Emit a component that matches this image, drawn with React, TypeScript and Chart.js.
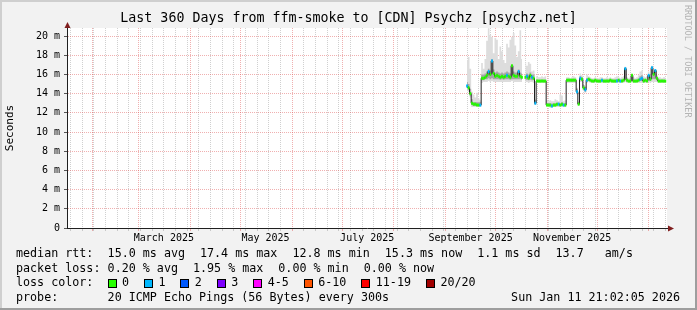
import React, { useEffect, useRef } from 'react';
import { Chart, registerables } from 'chart.js';

Chart.register(...registerables);

const FONT = '"DejaVu Sans Mono", "Liberation Mono", monospace';

// time axis: days since graph start (Jan 16 2025 21:02:05), 360 days shown
const graphStartUTC = Date.UTC(2025, 0, 16, 21, 2, 5);
const spanDays = 360;
const firstDataDay = 240;

// median RTT (ms), one value per day from firstDataDay
const median = [
  14.8, 14.6, 14.0, 13.0, 12.9, 12.9, 12.8, 12.8, 12.8, 15.6,
  15.6, 15.7, 15.9, 16.3, 16.0, 17.4, 16.1, 15.8, 15.9, 15.8,
  15.7, 15.8, 15.7, 15.8, 15.9, 15.8, 15.7, 16.9, 15.9, 15.8,
  15.8, 16.3, 15.8, 15.7, null, 15.7, 15.8, 15.6, 15.9, 15.7,
  15.6, 13.0, 15.3, 15.3, 15.3, 15.3, 15.3, 15.3, 12.8, 12.8,
  12.8, 12.7, 12.8, 12.8, 12.9, 12.9, 12.8, 12.9, 12.8, 12.8,
  15.4, 15.4, 15.4, 15.4, 15.4, 15.4, 14.2, 12.9, 15.6, 15.5,
  14.6, 14.4, 15.4, 15.5, 15.4, 15.3, 15.3, 15.4, 15.3, 15.3,
  15.3, 15.4, 15.3, 15.3, 15.3, 15.3, 15.4, 15.3, 15.3, 15.3,
  15.3, 15.4, 15.3, 15.3, 15.4, 16.6, 15.4, 15.3, 15.3, 15.9,
  15.3, 15.3, 15.3, 15.4, 15.5, 15.6, 15.3, 15.4, 15.3, 15.9,
  15.5, 16.7, 16.0, 16.4, 15.6, 15.3, 15.3, 15.3, 15.3, 15.3,
];

// loss bin per day (index into lossColors)
const lossBin = [
  1, 0, 0, 0, 0, 0, 0, 0, 1, 0,
  0, 0, 0, 1, 0, 1, 0, 0, 0, 0,
  0, 0, 0, 0, 1, 0, 0, 0, 0, 0,
  0, 1, 0, 0, 0, 0, 1, 0, 0, 1,
  0, 1, 0, 0, 0, 0, 0, 0, 0, 0,
  0, 1, 0, 0, 0, 1, 0, 0, 1, 0,
  0, 0, 0, 0, 0, 0, 1, 0, 1, 0,
  0, 1, 1, 0, 0, 0, 0, 0, 0, 0,
  0, 1, 0, 0, 0, 0, 0, 0, 0, 0,
  1, 0, 1, 0, 0, 1, 0, 0, 0, 0,
  0, 0, 0, 0, 1, 1, 0, 0, 0, 1,
  0, 1, 0, 1, 0, 0, 0, 0, 0, 0,
];

// smoke: slowest / fastest ping per day
const pingMax = [
  17.5, 17.8, 16.6, 14.2, 13.9, 13.6, 14.1, 13.5, 13.3, 17.2,
  16.6, 17.6, 19.5, 20.8, 20.1, 19.9, 18.2, 19.8, 19.6, 17.6,
  18.9, 18.4, 17.5, 17.2, 19.2, 18.8, 19.6, 19.9, 20.3, 19.0,
  17.8, 18.4, 20.6, 17.6, null, 17.3, 16.9, 17.3, 17.1, 16.3,
  16.4, 13.4, 15.8, 15.7, 15.7, 15.8, 15.7, 15.8, 13.3, 13.2,
  13.3, 13.2, 13.2, 13.4, 13.3, 13.2, 13.9, 13.8, 13.2, 13.3,
  15.7, 15.7, 15.6, 15.7, 15.8, 15.7, 14.6, 13.2, 16.1, 15.9,
  14.9, 14.8, 16.0, 15.8, 15.7, 15.6, 15.6, 15.7, 15.6, 15.6,
  15.7, 15.7, 15.6, 15.6, 15.7, 15.6, 15.7, 15.6, 15.6, 15.7,
  15.8, 15.7, 15.6, 15.7, 15.8, 16.8, 15.7, 15.6, 15.7, 16.0,
  15.7, 15.6, 15.7, 15.9, 16.3, 16.4, 15.8, 15.7, 15.8, 16.3,
  16.0, 16.9, 16.6, 16.5, 15.9, 15.7, 15.7, 15.6, 15.7, 15.7,
];
const pingMin = [
  14.3, 14.2, 13.6, 12.6, 12.6, 12.6, 12.6, 12.6, 12.6, 15.1,
  15.2, 15.2, 15.2, 15.3, 15.2, 15.3, 15.2, 15.2, 15.2, 15.2,
  15.2, 15.2, 15.2, 15.2, 15.2, 15.2, 15.2, 15.3, 15.2, 15.2,
  15.2, 15.2, 15.2, 15.2, null, 15.2, 15.2, 15.1, 15.2, 15.2,
  15.1, 12.8, 15.1, 15.1, 15.1, 15.1, 15.1, 15.1, 12.6, 12.6,
  12.5, 12.5, 12.6, 12.6, 12.6, 12.6, 12.6, 12.6, 12.6, 12.6,
  15.1, 15.1, 15.1, 15.1, 15.1, 15.1, 13.9, 12.7, 15.2, 15.2,
  14.3, 14.1, 15.1, 15.2, 15.1, 15.1, 15.1, 15.1, 15.1, 15.1,
  15.1, 15.1, 15.1, 15.1, 15.1, 15.1, 15.1, 15.1, 15.1, 15.1,
  15.1, 15.1, 15.1, 15.1, 15.1, 15.2, 15.1, 15.1, 15.1, 15.2,
  15.1, 15.1, 15.1, 15.1, 15.1, 15.1, 15.1, 15.1, 15.1, 15.2,
  15.1, 15.2, 15.2, 15.2, 15.2, 15.1, 15.1, 15.1, 15.1, 15.1,
];
// smoke core (pings around the median)
const coreLo = [
  14.6, 14.4, 13.8, 12.8, 12.7, 12.7, 12.7, 12.7, 12.7, 15.4,
  15.4, 15.5, 15.5, 15.6, 15.5, 15.6, 15.5, 15.5, 15.5, 15.5,
  15.45, 15.5, 15.45, 15.5, 15.5, 15.5, 15.45, 15.5, 15.5, 15.5,
  15.5, 15.5, 15.5, 15.45, null, 15.4, 15.45, 15.4, 15.45, 15.4,
  15.4, 12.9, 15.2, 15.2, 15.2, 15.2, 15.2, 15.2, 12.7, 12.7,
  12.7, 12.6, 12.7, 12.7, 12.75, 12.75, 12.7, 12.75, 12.7, 12.7,
  15.25, 15.25, 15.25, 15.25, 15.25, 15.25, 14.0, 12.8, 15.4, 15.35,
  14.4, 14.2, 15.25, 15.3, 15.25, 15.2, 15.2, 15.25, 15.2, 15.2,
  15.2, 15.25, 15.2, 15.2, 15.2, 15.2, 15.25, 15.2, 15.2, 15.2,
  15.2, 15.25, 15.2, 15.2, 15.25, 15.4, 15.25, 15.2, 15.2, 15.4,
  15.2, 15.2, 15.2, 15.25, 15.3, 15.3, 15.2, 15.25, 15.2, 15.4,
  15.3, 15.5, 15.5, 15.5, 15.4, 15.2, 15.2, 15.2, 15.2, 15.2,
];
const coreHi = [
  15.2, 15.0, 14.5, 13.4, 13.1, 13.1, 13.1, 13.1, 13.1, 16.0,
  16.0, 16.1, 16.3, 16.6, 16.4, 17.6, 16.5, 16.2, 16.3, 16.2,
  16.1, 16.2, 16.1, 16.2, 16.3, 16.2, 16.1, 17.0, 16.3, 16.2,
  16.2, 16.5, 16.2, 16.1, null, 16.0, 16.1, 16.0, 16.2, 16.0,
  16.0, 13.3, 15.45, 15.45, 15.45, 15.45, 15.45, 15.45, 13.0, 13.0,
  13.0, 12.95, 13.0, 13.0, 13.05, 13.05, 13.0, 13.1, 13.0, 13.0,
  15.55, 15.55, 15.5, 15.55, 15.55, 15.5, 14.5, 13.1, 15.8, 15.7,
  14.9, 14.7, 15.6, 15.65, 15.5, 15.45, 15.45, 15.5, 15.45, 15.45,
  15.45, 15.55, 15.45, 15.45, 15.45, 15.45, 15.5, 15.45, 15.45, 15.45,
  15.5, 15.5, 15.45, 15.45, 15.5, 16.7, 15.55, 15.45, 15.45, 15.95,
  15.45, 15.45, 15.45, 15.55, 15.8, 15.9, 15.45, 15.5, 15.45, 16.0,
  15.7, 16.8, 16.2, 16.45, 15.7, 15.45, 15.45, 15.45, 15.45, 15.45,
];

// axis labels
const monthLabelNames = ['March 2025', 'May 2025', 'July 2025', 'September 2025', 'November 2025'];
const monthLabelYM = [[2025, 2], [2025, 4], [2025, 6], [2025, 8], [2025, 10]];
const yTickValues = [0, 1, 2, 3, 4, 5, 6, 7, 8, 9, 10, 11, 12, 13, 14, 15, 16, 17, 18, 19, 20];

// legend content
const titleText = 'Last 360 Days from ffm-smoke to [CDN] Psychz [psychz.net]';
const rttStats = ['15.0 ms avg', '17.4 ms max', '12.8 ms min', '15.3 ms now', '1.1 ms sd', '13.7   am/s'];
const lossStats = ['0.20 % avg', '1.95 % max', '0.00 % min', '0.00 % now'];
const lossLabels = ['0', '1', '2', '3', '4-5', '6-10', '11-19', '20/20'];
const lossColors = ['#26ff00', '#00b8ff', '#0059ff', '#7e00ff', '#ff00ff', '#ff5500', '#ff0000', '#a10000'];
const probeText = '20 ICMP Echo Pings (56 Bytes) every 300s';
const stampText = 'Sun Jan 11 21:02:05 2026';

const MAJOR = 'rgba(222,79,79,0.45)';
const MINOR = 'rgba(143,143,143,0.42)';
const AXIS = '#1f1f1f';
const SMOKE_LIGHT = '#dddddd';
const SMOKE_DARK = '#a6a6a6';

const dayOf = (y: number, m: number, d: number) => (Date.UTC(y, m, d) - graphStartUTC) / 86400000;

function buildXTicks() {
  const ticks: any[] = [];
  for (let k = 1; k <= 12; k++) {
    const v = dayOf(2025 + Math.floor(k / 12), k % 12, 1);
    if (v > 0 && v < spanDays) ticks.push({ value: v, kind: 'month' });
  }
  for (let v = dayOf(2025, 0, 19); v < spanDays; v += 7) {
    if (!ticks.some((t) => Math.abs(t.value - v) < 0.01)) ticks.push({ value: v, kind: 'week' });
  }
  monthLabelYM.forEach(([y, m], i) => {
    ticks.push({ value: dayOf(y, m, 1) + 15, kind: 'label', text: monthLabelNames[i] });
  });
  ticks.sort((a, b) => a.value - b.value);
  return ticks;
}

const pts = (arr: (number | null)[]) => arr.map((v, i) => ({ x: firstDataDay + i, y: v }));

const xGridColor = (c: any) => {
  const k = c.tick && c.tick.kind;
  return k === 'month' ? MAJOR : k === 'week' ? MINOR : 'rgba(0,0,0,0)';
};
const yGridColor = (c: any) => {
  if (!c.tick || c.tick.value === 0) return 'rgba(0,0,0,0)';
  return c.tick.value % 2 === 0 ? MAJOR : MINOR;
};
const yTickColor = (c: any) => {
  if (!c.tick) return 'rgba(0,0,0,0)';
  return c.tick.value % 2 === 0 ? '#555555' : '#aaaaaa';
};

const decor = {
  id: 'decor',
  beforeDraw(chart: any) {
    const { ctx, chartArea: a, width, height } = chart;
    ctx.save();
    ctx.fillStyle = '#f2f2f2';
    ctx.fillRect(0, 0, width, height);
    ctx.fillStyle = '#ffffff';
    ctx.fillRect(a.left, a.top, a.right - a.left, a.bottom - a.top);
    ctx.restore();
  },
  afterDraw(chart: any) {
    const { ctx, chartArea: a, width, height } = chart;
    ctx.save();
    // frame shading
    ctx.fillStyle = '#cfcfcf';
    ctx.fillRect(0, 0, width, 2);
    ctx.fillRect(0, 0, 2, height);
    ctx.fillStyle = '#9e9e9e';
    ctx.fillRect(0, height - 2, width, 2);
    ctx.fillRect(width - 2, 0, 2, height);

    // axis extensions and arrows
    const ax = Math.round(a.left) + 0.5;
    const ay = Math.round(a.bottom) + 0.5;
    ctx.strokeStyle = AXIS;
    ctx.lineWidth = 1;
    ctx.beginPath();
    ctx.moveTo(ax, a.top);
    ctx.lineTo(ax, a.top - 3);
    ctx.moveTo(a.right, ay);
    ctx.lineTo(a.right + 3, ay);
    ctx.stroke();
    ctx.fillStyle = '#801f1f';
    ctx.beginPath();
    ctx.moveTo(ax - 3, a.top);
    ctx.lineTo(ax + 3, a.top);
    ctx.lineTo(ax, a.top - 6);
    ctx.closePath();
    ctx.fill();
    ctx.beginPath();
    ctx.moveTo(a.right + 1, ay - 3);
    ctx.lineTo(a.right + 1, ay + 3);
    ctx.lineTo(a.right + 7, ay);
    ctx.closePath();
    ctx.fill();

    // title
    ctx.fillStyle = '#000';
    ctx.textBaseline = 'middle';
    ctx.textAlign = 'center';
    ctx.font = `13.3px ${FONT}`;
    ctx.fillText(titleText, width / 2, 18.5);

    // watermark
    ctx.save();
    ctx.translate(687.5, 5);
    ctx.rotate(Math.PI / 2);
    ctx.textAlign = 'left';
    ctx.fillStyle = '#b4b4b4';
    ctx.font = `8.5px ${FONT}`;
    ctx.fillText('RRDTOOL / TOBI OETIKER', 0, 0);
    ctx.restore();

    // legend
    ctx.font = `11.7px ${FONT}`;
    ctx.textAlign = 'left';
    ctx.fillStyle = '#000';
    const rowY = [254, 268.5, 283, 297.5];
    const x0 = 16;
    const xv = 107.6;
    const gap = 15;
    ctx.fillText('median rtt:', x0, rowY[0]);
    let x = xv;
    for (const s of rttStats) {
      ctx.fillText(s, x, rowY[0]);
      x += ctx.measureText(s).width + gap;
    }
    ctx.fillText('packet loss:', x0, rowY[1]);
    x = xv;
    for (const s of lossStats) {
      ctx.fillText(s, x, rowY[1]);
      x += ctx.measureText(s).width + gap;
    }
    ctx.fillText('loss color:', x0, rowY[2]);
    x = xv;
    lossLabels.forEach((s, i) => {
      const bx = Math.round(x);
      const by = Math.round(rowY[2] - 4.5);
      ctx.fillStyle = lossColors[i];
      ctx.fillRect(bx, by, 9, 9);
      ctx.strokeStyle = '#000';
      ctx.lineWidth = 1;
      ctx.strokeRect(bx + 0.5, by + 0.5, 8, 8);
      ctx.fillStyle = '#000';
      ctx.fillText(s, x + 14.4, rowY[2]);
      x += 14.4 + ctx.measureText(s).width + gap;
    });
    ctx.fillText('probe:', x0, rowY[3]);
    ctx.fillText(probeText, xv, rowY[3]);
    ctx.textAlign = 'right';
    ctx.fillText(stampText, 680, rowY[3]);
    ctx.restore();
  },
};

export default function App() {
  const ref = useRef<HTMLCanvasElement>(null);
  useEffect(() => {
    document.body.style.margin = '0';
    const lineBase = { pointRadius: 0, pointHoverRadius: 0, stepped: 'middle' as const, spanGaps: false };
    const chart = new Chart(ref.current as HTMLCanvasElement, {
      type: 'line',
      data: {
        datasets: [
          { ...lineBase, label: 'max', data: pts(pingMax), fill: '+1', backgroundColor: SMOKE_LIGHT, borderColor: 'rgba(0,0,0,0)', borderWidth: 0, order: 10 },
          { ...lineBase, label: 'min', data: pts(pingMin), fill: false, borderColor: 'rgba(0,0,0,0)', borderWidth: 0, order: 10 },
          { ...lineBase, label: 'hi', data: pts(coreHi), fill: '+1', backgroundColor: SMOKE_DARK, borderColor: 'rgba(0,0,0,0)', borderWidth: 0, order: 9 },
          { ...lineBase, label: 'lo', data: pts(coreLo), fill: false, borderColor: 'rgba(0,0,0,0)', borderWidth: 0, order: 9 },
          { ...lineBase, label: 'median', data: pts(median), fill: false, borderColor: '#202020', borderWidth: 1, order: 2 },
          {
            label: 'loss',
            data: pts(median),
            showLine: false,
            pointStyle: 'line',
            pointRadius: 0.9,
            pointHoverRadius: 0.9,
            pointBorderWidth: 3,
            pointBorderColor: lossBin.map((b) => lossColors[b]),
            pointBackgroundColor: lossBin.map((b) => lossColors[b]),
            order: 1,
          },
        ] as any,
      },
      options: {
        responsive: false,
        maintainAspectRatio: false,
        animation: false,
        devicePixelRatio: 1,
        events: [],
        layout: { padding: { top: 28, right: 30, bottom: 0, left: 0 } },
        plugins: { legend: { display: false }, tooltip: { enabled: false }, title: { display: false } },
        scales: {
          x: {
            type: 'linear',
            min: 0,
            max: spanDays,
            afterBuildTicks: (s: any) => { s.ticks = buildXTicks(); },
            afterFit: (s: any) => { s.height = 82; },
            ticks: {
              autoSkip: false,
              maxRotation: 0,
              minRotation: 0,
              padding: 1,
              color: '#000',
              font: { family: FONT, size: 10 },
              callback: (_v: any, i: number, t: any[]) => (t[i] && t[i].kind === 'label' ? t[i].text : ''),
            },
            grid: { color: xGridColor, tickColor: xGridColor, lineWidth: 1, tickLength: 3, drawTicks: true },
            border: { display: true, color: AXIS, width: 1, dash: [1, 1] },
          },
          y: {
            type: 'linear',
            min: 0,
            max: 200 / 9.6,
            afterBuildTicks: (s: any) => { s.ticks = yTickValues.map((v) => ({ value: v })); },
            afterFit: (s: any) => { s.width = 67; },
            ticks: {
              padding: 4,
              color: '#000',
              font: { family: FONT, size: 10 },
              callback: (v: any) => (v % 2 ? '' : v === 0 ? '0' : `${v} m`),
            },
            grid: { color: yGridColor, tickColor: yTickColor, lineWidth: 1, tickLength: 3, drawTicks: true },
            border: { display: true, color: AXIS, width: 1, dash: [1, 1] },
            title: { display: true, text: 'Seconds', color: '#000', font: { family: FONT, size: 11 }, padding: { top: 3.5, bottom: 0 } },
          },
        },
      } as any,
      plugins: [decor],
    });
    return () => chart.destroy();
  }, []);
  return <canvas ref={ref} width={697} height={310} style={{ display: 'block', width: 697, height: 310 }} />;
}
